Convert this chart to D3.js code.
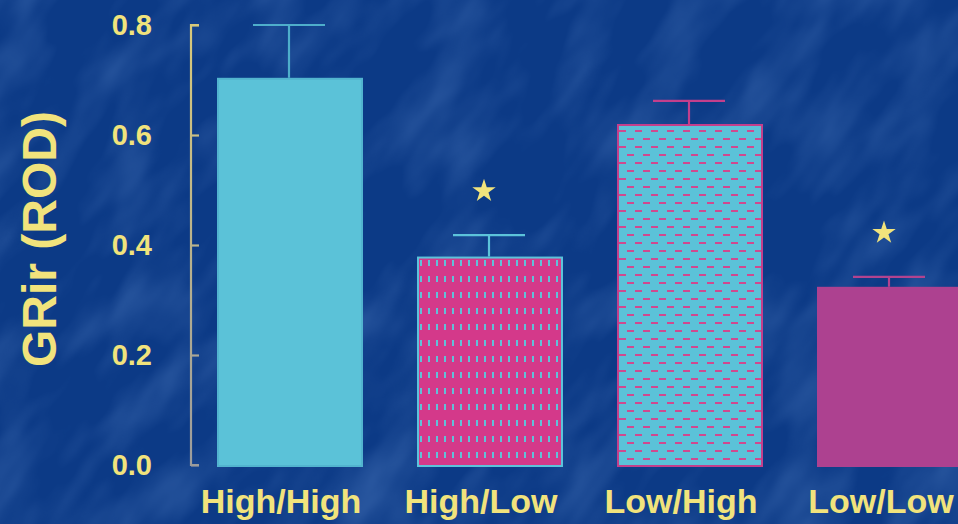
<!DOCTYPE html>
<html>
<head>
<meta charset="utf-8">
<script src="https://cdn.jsdelivr.net/npm/d3@7"></script>
<style>
html,body{margin:0;padding:0;background:#0d3b87;overflow:hidden;}
svg{display:block;}
</style>
</head>
<body>
<svg id="chart" width="958" height="524"></svg>
<script>
// ---- data ----
const categories = ["High/High", "High/Low", "Low/High", "Low/Low"];
const values = [0.704, 0.379, 0.620, 0.324];
const errorTops = [0.800, 0.418, 0.662, 0.342];
const significant = [false, true, false, true];
const yTicks = [0.0, 0.2, 0.4, 0.6, 0.8];
const yLabel = "GRir (ROD)";

// ---- styles ----
const W = 958, H = 524;
const yellow = "#f1e37c";
const cyan = "#5bc2d8";
const magenta = "#d4398a";
const plum = "#ad4190";
const barStyles = [
  {fill: cyan, stroke: "#52b4cf", err: "#4eaecb"},
  {fill: "url(#vdash)", stroke: "#5cc3da", err: "#5cc3da"},
  {fill: "url(#hdash)", stroke: "#c33f8c", err: "#c33f8c"},
  {fill: plum, stroke: plum, err: "#b2438f"}
];

const svg = d3.select("#chart");
const defs = svg.append("defs");

// background texture
const f = defs.append("filter").attr("id", "tex").attr("x", 0).attr("y", 0).attr("width", 1).attr("height", 1);
f.append("feTurbulence").attr("type", "fractalNoise").attr("baseFrequency", "0.022 0.009").attr("numOctaves", 3).attr("seed", 11);
f.append("feColorMatrix").attr("type", "matrix")
  .attr("values", "0 0 0 0 0.22  0 0 0 0 0.42  0 0 0 0 0.82  1.5 0 0 0 -0.62");

// patterns
const pv = defs.append("pattern").attr("id", "vdash").attr("patternUnits", "userSpaceOnUse")
  .attr("width", 8).attr("height", 16).attr("x", 417).attr("y", 258);
pv.append("rect").attr("width", 8).attr("height", 16).attr("fill", magenta);
pv.append("rect").attr("x", 3).attr("y", 2).attr("width", 2).attr("height", 6).attr("fill", "#62c0d8");

const ph = defs.append("pattern").attr("id", "hdash").attr("patternUnits", "userSpaceOnUse")
  .attr("width", 16).attr("height", 16).attr("x", 617).attr("y", 127);
ph.append("rect").attr("width", 16).attr("height", 16).attr("fill", cyan);
ph.append("rect").attr("x", 2).attr("y", 3).attr("width", 7).attr("height", 2).attr("fill", "#d0498f");
ph.append("rect").attr("x", 10).attr("y", 11).attr("width", 7).attr("height", 2).attr("fill", "#d0498f");
ph.append("rect").attr("x", -6).attr("y", 11).attr("width", 7).attr("height", 2).attr("fill", "#d0498f");

const grad = defs.append("linearGradient").attr("id", "axisGrad").attr("x1", 0).attr("x2", 0).attr("y1", 0).attr("y2", 1);
grad.append("stop").attr("offset", "0%").attr("stop-color", "#d8c97a");
grad.append("stop").attr("offset", "100%").attr("stop-color", "#9c9c9c");

svg.append("rect").attr("width", W).attr("height", H).attr("fill", "#0c3a86");
svg.append("g").attr("transform", "rotate(35 479 262)")
  .append("rect").attr("x", -400).attr("y", -500).attr("width", 1800).attr("height", 1600)
  .attr("filter", "url(#tex)").attr("opacity", 0.32);

// ---- scales ----
const x = d3.scaleBand().domain(categories).range([190, 990]).paddingInner(0.27).paddingOuter(0.135);
const y = d3.scaleLinear().domain([0, 0.8]).range([465, 25]);

// ---- axis ----
const axis = d3.axisRight(y).tickValues(yTicks).tickSize(8).tickFormat("");
const ag = svg.append("g").attr("transform", "translate(191,0)").call(axis);
ag.select(".domain").attr("stroke", "url(#axisGrad)").attr("stroke-width", 2.2).attr("d", `M8,${y(0.8)}H0V${y(0)}H8`);
ag.selectAll(".tick line").attr("stroke", (d) => d3.interpolateRgb("#9c9c9c", "#d8c97a")(d / 0.8)).attr("stroke-width", 2.2);

svg.append("g").selectAll("text").data(yTicks).join("text")
  .attr("x", 152).attr("y", d => y(d) + 10)
  .attr("text-anchor", "end")
  .attr("font-family", "Liberation Sans, Arial, sans-serif").attr("font-weight", "bold")
  .attr("font-size", 29).attr("fill", yellow)
  .text(d => d3.format(".1f")(d));

svg.append("text")
  .attr("transform", "translate(56,239) rotate(-90)")
  .attr("text-anchor", "middle")
  .attr("font-family", "Liberation Sans, Arial, sans-serif").attr("font-weight", "bold")
  .attr("font-size", 48).attr("fill", yellow)
  .text(yLabel);

// ---- error bars ----
const eg = svg.append("g");
categories.forEach((c, i) => {
  const cx = x(c) + x.bandwidth() / 2 - 1;
  eg.append("line").attr("x1", cx).attr("x2", cx).attr("y1", y(values[i])).attr("y2", y(errorTops[i]))
    .attr("stroke", barStyles[i].err).attr("stroke-width", 2.2);
  eg.append("line").attr("x1", cx - 36).attr("x2", cx + 36).attr("y1", y(errorTops[i])).attr("y2", y(errorTops[i]))
    .attr("stroke", barStyles[i].err).attr("stroke-width", 2.2);
});

// ---- bars ----
svg.append("g").selectAll("rect").data(categories).join("rect")
  .attr("x", d => x(d) + 1).attr("width", x.bandwidth() - 2)
  .attr("y", (d, i) => y(values[i]) + 1).attr("height", (d, i) => y(0) - y(values[i]))
  .attr("fill", (d, i) => barStyles[i].fill)
  .attr("stroke", (d, i) => barStyles[i].stroke).attr("stroke-width", 2);

// ---- significance stars ----
svg.append("g").selectAll("path").data(categories.filter((c, i) => significant[i])).join("path")
  .attr("d", d3.symbol(d3.symbolStar, 170))
  .attr("transform", d => {
    const i = categories.indexOf(d);
    return `translate(${x(d) + x.bandwidth() / 2 - 6},${y(errorTops[i]) - 44})`;
  })
  .attr("fill", yellow);

// ---- category labels ----
svg.append("g").selectAll("text").data(categories).join("text")
  .attr("x", d => x(d) + x.bandwidth() / 2 - 9).attr("y", 513)
  .attr("text-anchor", "middle")
  .attr("font-family", "Liberation Sans, Arial, sans-serif").attr("font-weight", "bold")
  .attr("font-size", 34).attr("fill", yellow)
  .text(d => d);
</script>
</body>
</html>
